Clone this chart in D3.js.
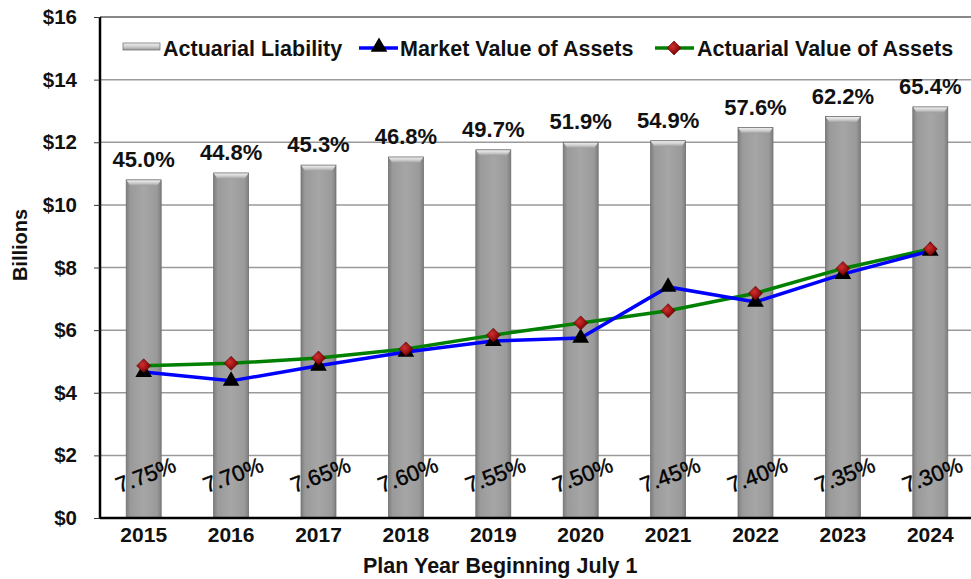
<!DOCTYPE html>
<html><head><meta charset="utf-8">
<script src="https://cdn.jsdelivr.net/npm/d3@7/dist/d3.min.js"></script>
<style>body{margin:0;background:#fff}svg{display:block;font-family:"Liberation Sans",Arial,sans-serif}</style>
</head><body>
<script>
const years = ["2015","2016","2017","2018","2019","2020","2021","2022","2023","2024"];
const actuarialLiability = [10.80, 11.02, 11.27, 11.53, 11.76, 12.00, 12.05, 12.47, 12.82, 13.13];
const marketValue = [4.66, 4.38, 4.86, 5.30, 5.65, 5.75, 7.38, 6.90, 7.79, 8.53];
const actuarialValue = [4.86, 4.94, 5.11, 5.40, 5.84, 6.23, 6.62, 7.18, 7.97, 8.59];
const fundedRatio = ["45.0%","44.8%","45.3%","46.8%","49.7%","51.9%","54.9%","57.6%","62.2%","65.4%"];
const discountRate = ["7.75%","7.70%","7.65%","7.60%","7.55%","7.50%","7.45%","7.40%","7.35%","7.30%"];
const yTicks = [0,2,4,6,8,10,12,14,16];

const W=971,H=579, L=100, R=974, T=17, B=518;
const svg=d3.select("body").append("svg").attr("width",W).attr("height",H);
const defs=svg.append("defs");
const g1=defs.append("linearGradient").attr("id","barG").attr("x1","0").attr("x2","1").attr("y1","0").attr("y2","0");
[[0,"#7e7e7e"],[0.12,"#9a9a9a"],[0.5,"#a6a6a6"],[0.88,"#9a9a9a"],[1,"#7e7e7e"]].forEach(d=>g1.append("stop").attr("offset",d[0]).attr("stop-color",d[1]));
const g2=defs.append("linearGradient").attr("id","capG").attr("x1","0").attr("x2","0").attr("y1","0").attr("y2","1");
[[0,"#f2f2f2"],[0.5,"#d0d0d0"],[1,"#9a9a9a"]].forEach(d=>g2.append("stop").attr("offset",d[0]).attr("stop-color",d[1]));
const g3=defs.append("radialGradient").attr("id","dia").attr("cx","0.4").attr("cy","0.4").attr("r","0.6");
[[0,"#d03030"],[1,"#7a0000"]].forEach(d=>g3.append("stop").attr("offset",d[0]).attr("stop-color",d[1]));

const x=d3.scaleBand().domain(years).range([L,R]).paddingInner(0.6).paddingOuter(0.3);
const y=d3.scaleLinear().domain([0,16]).range([B,T]);
const cx=d=>x(d)+x.bandwidth()/2;

// gridlines
svg.append("g").selectAll("line").data(yTicks.filter(v=>v>0)).join("line")
  .attr("x1",L).attr("x2",R).attr("y1",d=>y(d)).attr("y2",d=>y(d))
  .attr("stroke","#9a9a9a").attr("stroke-width",1.5);

// bars
const bars=svg.append("g");
years.forEach((yr,i)=>{
  const x0=x(yr), w=x.bandwidth(), yt=y(actuarialLiability[i]);
  bars.append("rect").attr("x",x0).attr("y",yt).attr("width",w).attr("height",B-yt).attr("fill","url(#barG)");
  bars.append("path").attr("d",`M${x0},${yt}L${x0+w},${yt}L${x0+w-4},${yt+6}L${x0+4},${yt+6}Z`).attr("fill","url(#capG)");
  bars.append("rect").attr("x",x0).attr("y",yt).attr("width",w).attr("height",B-yt).attr("fill","none").attr("stroke","#6e6e6e").attr("stroke-width",0.8);
});

// funded ratio labels
svg.append("g").selectAll("text").data(years).join("text")
  .attr("x",d=>cx(d)).attr("y",(d,i)=>y(actuarialLiability[i])-13)
  .attr("text-anchor","middle").attr("font-size",22).attr("font-weight","bold").attr("fill","#111")
  .text((d,i)=>fundedRatio[i]);

// discount rate labels
svg.append("g").selectAll("text").data(years).join("text")
  .attr("transform",d=>`translate(${cx(d)+2},${475}) rotate(-21)`)
  .attr("text-anchor","middle").attr("dy","0.35em").attr("font-size",22).attr("fill","#000")
  .attr("stroke","#000").attr("stroke-width",0.4)
  .text((d,i)=>discountRate[i]);

// lines
const line=d3.line().x((d,i)=>cx(years[i])).y(d=>y(d));
svg.append("path").datum(actuarialValue).attr("d",line).attr("fill","none").attr("stroke","#008000").attr("stroke-width",3.5);
svg.append("path").datum(marketValue).attr("d",line).attr("fill","none").attr("stroke","#0000ff").attr("stroke-width",3.5);
const tri=d3.symbol().type(d3.symbolTriangle).size(120);
const dia=(s)=>`M0,${-s}L${s},0L0,${s}L${-s},0Z`;
svg.append("g").selectAll("path").data(marketValue).join("path")
  .attr("transform",(d,i)=>`translate(${cx(years[i])},${y(d)})`).attr("d",tri).attr("fill","#000");
svg.append("g").selectAll("path").data(actuarialValue).join("path")
  .attr("transform",(d,i)=>`translate(${cx(years[i])},${y(d)})`).attr("d",dia(7)).attr("fill","url(#dia)").attr("stroke","#5a0000").attr("stroke-width",0.6);

// top border
svg.append("line").attr("x1",L).attr("x2",R).attr("y1",T).attr("y2",T).attr("stroke","#888").attr("stroke-width",2);

const FONT="Liberation Sans, Arial, sans-serif";
// y axis
const ya=svg.append("g").attr("transform",`translate(${L},0)`).call(d3.axisLeft(y).tickValues(yTicks).tickSize(6).tickPadding(17).tickFormat(d=>"$"+d));
ya.select(".domain").attr("stroke","#000").attr("stroke-width",2.5).attr("d",`M0,${T}V${B}`);
ya.selectAll(".tick line").attr("stroke","#333").attr("stroke-width",1);
ya.selectAll("text").attr("font-size",20.5).attr("font-weight","bold").attr("fill","#111").attr("font-family",FONT);
// x axis
const xa=svg.append("g").attr("transform",`translate(0,${B})`).call(d3.axisBottom(x).tickSize(0).tickPadding(9));
xa.select(".domain").attr("stroke","#000").attr("stroke-width",2.5).attr("d",`M${L},0H${R}`);
xa.selectAll("text").attr("font-size",21).attr("font-weight","bold").attr("fill","#111").attr("font-family",FONT);

svg.append("text").attr("transform","translate(27,245) rotate(-90)").attr("text-anchor","middle")
  .attr("font-size",20).attr("font-weight","bold").attr("fill","#111").text("Billions");
svg.append("text").attr("x",363).attr("y",573)
  .attr("font-size",21.5).attr("font-weight","bold").attr("fill","#111").text("Plan Year Beginning July 1");

// legend
const lg=svg.append("g");
lg.append("rect").attr("x",123).attr("y",43).attr("width",37).attr("height",7).attr("fill","url(#capG)").attr("stroke","#777").attr("stroke-width",0.8);
lg.append("text").attr("x",163).attr("y",56).attr("font-size",21.5).attr("font-weight","bold").attr("fill","#111").text("Actuarial Liability");
lg.append("line").attr("x1",359).attr("x2",398).attr("y1",48).attr("y2",48).attr("stroke","#0000ff").attr("stroke-width",3.5);
lg.append("path").attr("transform","translate(379,47)").attr("d",tri).attr("fill","#000");
lg.append("text").attr("x",400).attr("y",56).attr("font-size",21.5).attr("font-weight","bold").attr("fill","#111").text("Market Value of Assets");
lg.append("line").attr("x1",655).attr("x2",694).attr("y1",48).attr("y2",48).attr("stroke","#008000").attr("stroke-width",3.5);
lg.append("path").attr("transform","translate(674,48)").attr("d",dia(7)).attr("fill","url(#dia)").attr("stroke","#5a0000").attr("stroke-width",0.6);
lg.append("text").attr("x",697).attr("y",56).attr("font-size",21.5).attr("font-weight","bold").attr("fill","#111").text("Actuarial Value of Assets");
</script>
</body></html>
